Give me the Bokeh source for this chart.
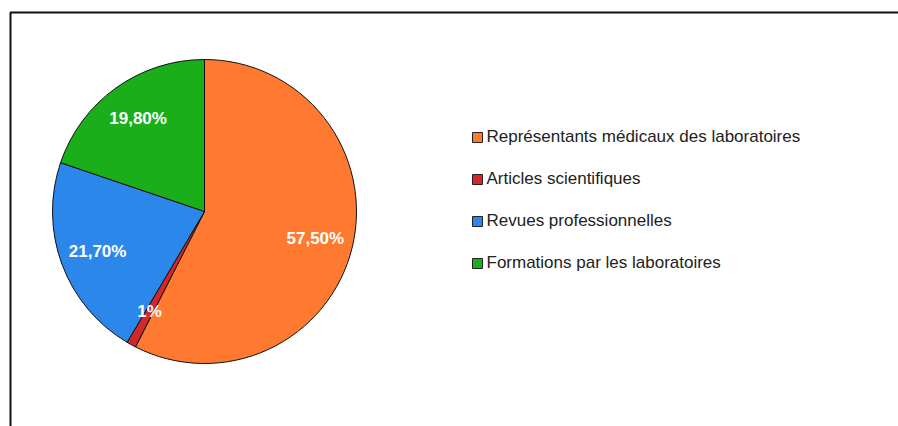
import math
from bokeh.plotting import figure
from bokeh.models import Range1d, ColumnDataSource
from bokeh.core.properties import value
from bokeh.embed import file_html
from bokeh.resources import INLINE

categories = ["Représentants médicaux des laboratoires", "Articles scientifiques",
              "Revues professionnelles", "Formations par les laboratoires"]
percents = [57.5, 1.0, 21.7, 19.8]
labels = ["57,50%", "1%", "21,70%", "19,80%"]
colors = ["#FF7A30", "#D2282B", "#2B87EA", "#1AAE1A"]

W, H = 898, 426
p = figure(width=W, height=H, output_backend="svg", toolbar_location=None,
           x_range=Range1d(0, W), y_range=Range1d(0, H), min_border=0)
p.axis.visible = False
p.grid.visible = False
p.outline_line_color = None
p.background_fill_color = "white"

# frame border (left and top visible)
p.line(x=[10, 10, W + 10], y=[-10, H - 12, H - 12], line_color="#111111", line_width=2)

cx, cy, r = 204, H - 211, 152
total = sum(percents)
starts, ends, lx, ly = [], [], [], []
cum = 0.0
for v in percents:
    a0 = math.pi / 2 - 2 * math.pi * (cum + v) / total
    a1 = math.pi / 2 - 2 * math.pi * cum / total
    starts.append(a0)
    ends.append(a1)
    mid = (a0 + a1) / 2
    lx.append(cx + 0.75 * r * math.cos(mid))
    ly.append(cy + 0.75 * r * math.sin(mid))
    cum += v

src = ColumnDataSource(dict(start=starts, end=ends, color=colors, lx=lx, ly=ly, label=labels))
p.wedge(x=cx, y=cy, radius=r, start_angle="start", end_angle="end", fill_color="color",
        line_color="#111111", line_width=1, source=src)
p.text(x="lx", y="ly", text="label", source=src, text_color="white",
       text_font=value("Liberation Sans"), text_font_style="bold", text_font_size="17px",
       text_align="center", text_baseline="middle")

ys = [H - 137 - 42 * i for i in range(len(categories))]
tys = [y + 1 for y in ys]
lsrc = ColumnDataSource(dict(x=[477] * 4, tx=[486] * 4, y=ys, ty=tys, color=colors, cat=categories))
p.rect(x="x", y="y", width=10, height=10, fill_color="color", line_color="#222222",
       line_width=1, source=lsrc)
p.text(x="tx", y="ty", text="cat", source=lsrc, text_color="#222222",
       text_font=value("Liberation Sans"), text_font_size="17px",
       text_align="left", text_baseline="middle")

open("out.html", "w").write(file_html(p, INLINE))
